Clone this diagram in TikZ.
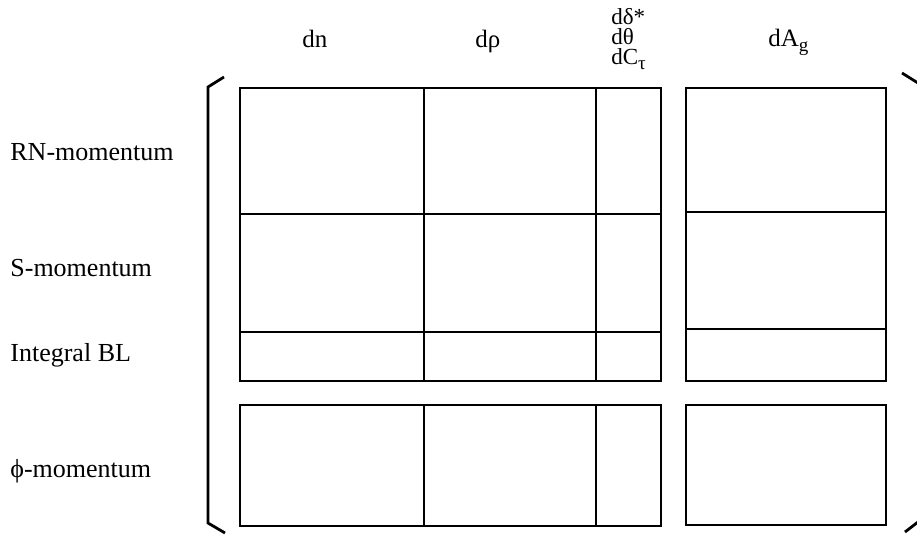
\documentclass[tikz,border=0pt]{standalone}
\usepackage{fontspec}
\setmainfont{Liberation Serif}
\usetikzlibrary{positioning,calc}
\newcommand{\lowsub}[1]{\raisebox{-0.4ex}{\fontsize{9.5}{10}\selectfont #1}}
\tikzset{
  blockframe/.style={draw=black,line width=1.3pt},
  blockrule/.style={draw=black,line width=0.55pt},
  bracketline/.style={draw=black,line width=1.4pt},
  rowlabel/.style={anchor=base west,inner sep=0pt,font=\fontsize{13}{15}\selectfont},
  collabel/.style={anchor=base west,inner sep=0pt,font=\fontsize{12.5}{15}\selectfont},
  stacklabel/.style={anchor=base west,inner sep=0pt,font=\fontsize{11.5}{12}\selectfont}
}
\begin{document}
\begin{tikzpicture}[x=0.5pt,y=-0.5pt]
  \useasboundingbox (0,0) rectangle (917,535);
  % block corners
  \coordinate (upperNW) at (240,88);
  \coordinate (upperSE) at (661,381);
  \coordinate (agUpNW) at (686,88);
  \coordinate (agUpSE) at (886,381);
  \coordinate (lowerNW) at (240,405);
  \coordinate (lowerSE) at (661,526);
  \coordinate (agLowNW) at (686,405);
  \coordinate (agLowSE) at (886,525);

  % column headers
  \node[collabel] (dn) at (302,48) {dn};
  \node[collabel] (drho) at (475,48) {dρ};
  \node[stacklabel] (dstar) at (611,25) {dδ*};
  \node[stacklabel] (dtheta) at (611,45) {dθ};
  \node[stacklabel] (dctau) at (611,65) {dC\lowsub{τ}};
  \node[collabel] (dag) at (768,47) {dA\lowsub{g}};

  % row labels
  \node[rowlabel] (rn) at (10,161) {RN-momentum};
  \node[rowlabel] (smom) at (10,277) {S-momentum};
  \node[rowlabel] (ibl) at (10,361) {Integral BL};
  \node[rowlabel] (phimom) at (10,477) {ϕ-momentum};

  % inner rules
  \foreach \xx in {424,596}{
    \draw[blockrule] (\xx,88) -- (\xx,381);
    \draw[blockrule] (\xx,405) -- (\xx,526);
  }
  \draw[blockrule] (240,214) -- (661,214);
  \draw[blockrule] (240,332) -- (661,332);
  \draw[blockrule] (686,212) -- (886,212);
  \draw[blockrule] (686,329) -- (886,329);

  % frames
  \draw[blockframe] (upperNW) rectangle (upperSE);
  \draw[blockframe] (agUpNW) rectangle (agUpSE);
  \draw[blockframe] (lowerNW) rectangle (lowerSE);
  \draw[blockframe] (agLowNW) rectangle (agLowSE);

  % brackets
  \draw[bracketline] (224,77) -- (208,87) -- (208,523) -- (225,533);
  \draw[bracketline] (902,73) -- (918,83);
  \draw[bracketline] (905,532) -- (918,522);
\end{tikzpicture}
\end{document}
